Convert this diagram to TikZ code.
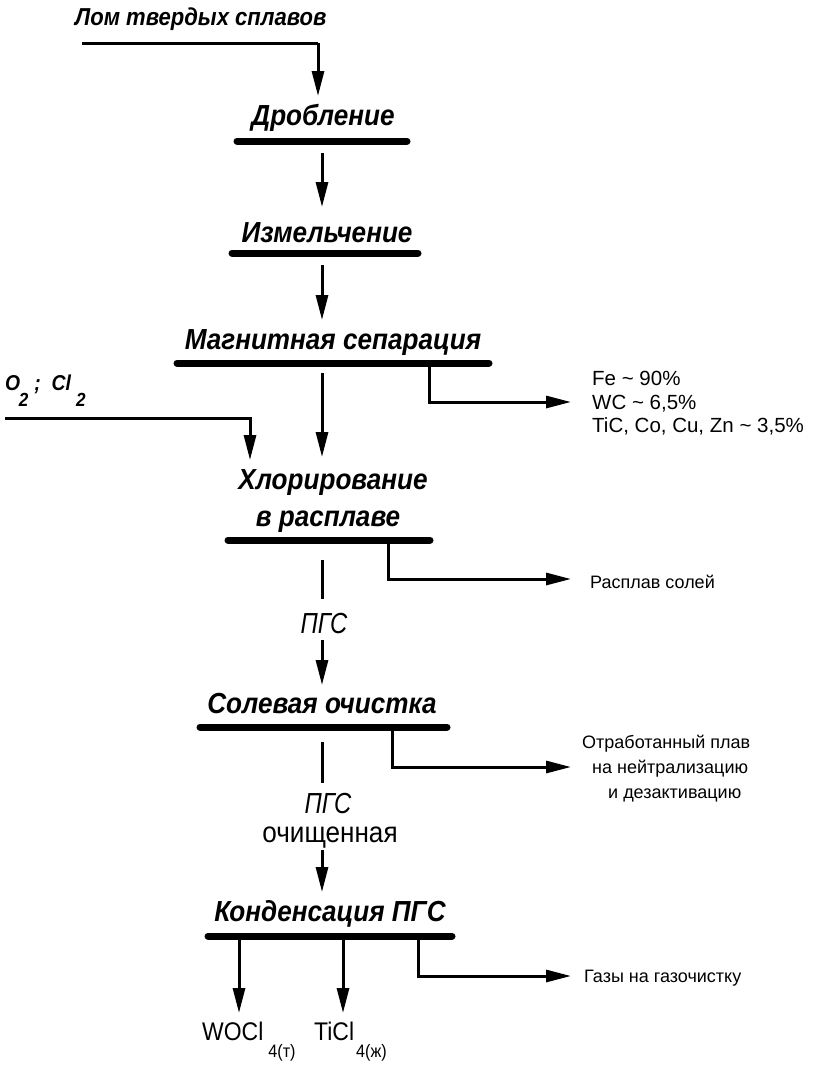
\documentclass[tikz,border=0pt]{standalone}
\usepackage{fontspec}
\setmainfont{Liberation Sans}[FakeStretch=0.9]
\newfontfamily\fullf{Liberation Sans}
\newfontfamily\narrowf{Liberation Sans}[FakeStretch=0.82]
\usetikzlibrary{arrows.meta}
\begin{document}
\begin{tikzpicture}[x=1pt,y=-1pt,
  title/.style={font=\bfseries\itshape\fontsize{29}{34}\selectfont, inner sep=0pt, anchor=base},
  small/.style={font=\fullf\fontsize{18}{22}\selectfont, inner sep=0pt, anchor=base west},
  chem/.style={font=\fullf\fontsize{20.5}{24}\selectfont, inner sep=0pt, anchor=base west},
  bar/.style={line width=7pt, line cap=round},
  wire/.style={line width=3pt},
  flow/.style={line width=3pt, -{Triangle[length=25pt,width=12pt]}}]
\useasboundingbox (0,0) rectangle (815,1080);

% top input
\node[title, anchor=base west, font=\bfseries\itshape\fontsize{24.5}{28}\selectfont] (lom) at (75,25) {Лом твердых сплавов};
\coordinate (lomA) at (82,43);
\coordinate (lomB) at (318,43);
\coordinate (lomC) at (318,96);
\draw[wire] (lomA) -- (lomB);
\draw[flow] (lomB) -- (lomC);

% Дробление
\node[title] (t1) at (323,125) {Дробление};
\coordinate (b1L) at (237,141); \coordinate (b1R) at (407,141);
\draw[bar] (b1L) -- (b1R);

% Измельчение
\node[title] (t2) at (327,242) {Измельчение};
\coordinate (b2L) at (232,253); \coordinate (b2R) at (418,253);
\draw[bar] (b2L) -- (b2R);
\coordinate (a1s) at (322,153);
\coordinate (a1e) at (322,207);
\draw[flow] (a1s) -- (a1e);

% Магнитная сепарация
\node[title] (t3) at (333,349) {Магнитная сепарация};
\coordinate (b3L) at (177,363); \coordinate (b3R) at (489,363);
\draw[bar] (b3L) -- (b3R);
\coordinate (a2s) at (322,265);
\coordinate (a2e) at (322,320);
\draw[flow] (a2s) -- (a2e);

% branch magnetic
\coordinate (m1) at (429,366);
\coordinate (m2) at (429,402);
\coordinate (m3) at (571,402);
\draw[flow] (m1) -- (m2) -- (m3);
\node[chem] (mag1) at (592,385) {Fe \char`~\ 90\%};
\node[chem] (mag2) at (592,409) {WC \char`~\ 6,5\%};
\node[chem] (mag3) at (592,432) {TiC, Co, Cu, Zn \char`~\ 3,5\%};

% Хлорирование
\node[title] (t4a) at (333,489) {Хлорирование};
\node[title] (t4b) at (328,526) {в расплаве};
\coordinate (b4L) at (228,540); \coordinate (b4R) at (430,540);
\draw[bar] (b4L) -- (b4R);
\coordinate (a3s) at (322,373);
\coordinate (a3e) at (322,457);
\draw[flow] (a3s) -- (a3e);

% O2 Cl2
\node[title, anchor=base west, font=\bfseries\itshape\fontsize{21.5}{26}\selectfont] (ocl) at (5,390) {O\hspace{-1.5pt}\raisebox{-16pt}{\fontsize{19}{19}\selectfont 2}\hspace{6pt};\hspace{11pt}Cl\hspace{5pt}\raisebox{-16pt}{\fontsize{19}{19}\selectfont 2}};
\coordinate (o1) at (5,418);
\coordinate (o2) at (250,418);
\coordinate (o3) at (250,460);
\draw[flow] (o1) -- (o2) -- (o3);

% branch chlorination
\coordinate (c1) at (388,543);
\coordinate (c2) at (388,579);
\coordinate (c3) at (571,579);
\draw[flow] (c1) -- (c2) -- (c3);
\node[small] (rs) at (590,588) {Расплав солей};

% ПГС 1
\coordinate (p1s) at (322,560);
\coordinate (p1e) at (322,599);
\draw[wire] (p1s) -- (p1e);
\node[inner sep=0pt, anchor=base, font=\narrowf\itshape\fontsize{29}{34}\selectfont] (pgs1) at (324,633) {ПГС};
\coordinate (p2s) at (322,640);
\coordinate (p2e) at (322,685);
\draw[flow] (p2s) -- (p2e);

% Солевая очистка
\node[title] (t5) at (322,713) {Солевая очистка};
\coordinate (b5L) at (200,727); \coordinate (b5R) at (447,727);
\draw[bar] (b5L) -- (b5R);

% branch salt
\coordinate (s1) at (392,730);
\coordinate (s2) at (392,767);
\coordinate (s3) at (571,767);
\draw[flow] (s1) -- (s2) -- (s3);
\node[small] (otr1) at (582,748) {Отработанный плав};
\node[small] (otr2) at (592,773) {на нейтрализацию};
\node[small] (otr3) at (608,798) {и дезактивацию};

% ПГС очищенная
\coordinate (q1s) at (322,742);
\coordinate (q1e) at (322,783);
\draw[wire] (q1s) -- (q1e);
\node[inner sep=0pt, anchor=base, font=\narrowf\itshape\fontsize{29}{34}\selectfont] (pgs2) at (328,813) {ПГС};
\node[inner sep=0pt, anchor=base, font=\fontsize{29}{34}\selectfont] (och) at (330,842) {очищенная};
\coordinate (q2s) at (322,850);
\coordinate (q2e) at (322,892);
\draw[flow] (q2s) -- (q2e);

% Конденсация ПГС
\node[title] (t6) at (330,921) {Конденсация ПГС};
\coordinate (b6L) at (208,936); \coordinate (b6R) at (452,936);
\draw[bar] (b6L) -- (b6R);

% outputs
\coordinate (w1) at (239,936);
\coordinate (w2) at (239,1013);
\draw[flow] (w1) -- (w2);
\coordinate (ti1) at (343,936);
\coordinate (ti2) at (343,1013);
\draw[flow] (ti1) -- (ti2);
\node[inner sep=0pt, anchor=base west, font=\fontsize{25.5}{28}\selectfont] (wocl) at (202,1040) {WOCl\hspace{5pt}\raisebox{-17pt}{\fontsize{18}{18}\selectfont 4(т)}};
\node[inner sep=0pt, anchor=base west, font=\fontsize{25.5}{28}\selectfont] (ticl) at (314,1040) {TiCl\hspace{2pt}\raisebox{-17pt}{\fontsize{18}{18}\selectfont 4(ж)}};

\coordinate (g1) at (418,938);
\coordinate (g2) at (418,976);
\coordinate (g3) at (571,976);
\draw[flow] (g1) -- (g2) -- (g3);
\node[small] (gaz) at (584,982) {Газы на газочистку};
\end{tikzpicture}
\end{document}
